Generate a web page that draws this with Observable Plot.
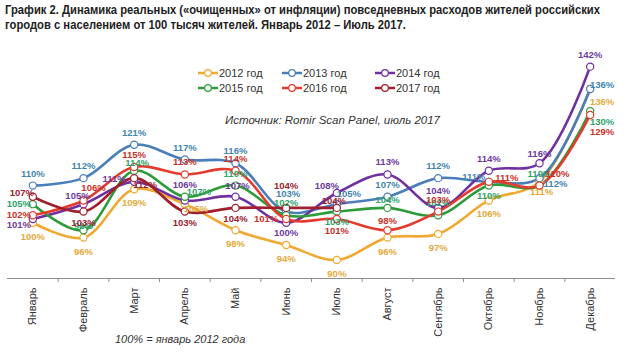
<!DOCTYPE html>
<html><head><meta charset="utf-8">
<script src="https://cdn.jsdelivr.net/npm/d3@7"></script>
<script src="https://cdn.jsdelivr.net/npm/@observablehq/plot@0.6"></script>
<style>
body{margin:0;background:#fff;width:640px;height:360px;position:relative;overflow:hidden;font-family:"Liberation Sans",Arial,sans-serif;color:#333;}
#title{position:absolute;left:5px;top:2px;font-family:"Liberation Sans",Arial,sans-serif;font-weight:bold;font-size:13px;line-height:15px;color:#222;white-space:nowrap;transform-origin:0 0;}
#title span{display:inline-block;}
#chart{position:absolute;left:0;top:36px;}
.leg{position:absolute;font-size:11px;line-height:13px;white-space:nowrap;display:flex;align-items:center;color:#333;}
.leg svg{margin-right:1px;}
#source{position:absolute;left:225px;top:113px;font-style:italic;font-size:11.5px;line-height:14px;color:#333;white-space:nowrap;}
#note{position:absolute;left:115px;top:332px;font-style:italic;font-size:11px;line-height:14px;color:#333;white-space:nowrap;}
</style></head>
<body>
<div id="title"><span id="t1">График 2. Динамика реальных («очищенных» от инфляции) повседневных расходов жителей российских</span><br><span id="t2">городов с населением от 100 тысяч жителей. Январь 2012 – Июль 2017.</span></div>
<div id="chart"></div>
<div id="legend"></div>
<div id="source">Источник: Romir Scan Panel, июль 2017</div>
<div id="note">100% = январь 2012 года</div>
<script>
const months = ["Январь","Февраль","Март","Апрель","Май","Июнь","Июль","Август","Сентябрь","Октябрь","Ноябрь","Декабрь"];
const seriesNames = ["2012 год","2013 год","2014 год","2015 год","2016 год","2017 год"];
const v2012 = [100,96,109,105,98,94,90,96,97,106,111,136];
const v2013 = [110,112,121,117,116,103,105,107,112,111,112,136];
const v2014 = [101,105,111,106,107,100,108,113,104,114,116,142];
const v2015 = [105,98,114,107,110,102,103,104,102,110,110,130];
const v2016 = [102,106,115,113,114,101,101,98,103,111,110,129];
const v2017 = [107,103,112,103,104,104,104];
const seriesValues = [v2012,v2013,v2014,v2015,v2016,v2017];

const lineColors = ["#F0A830","#4A7EBB","#7030A0","#2E9B3A","#E53A2E","#A11F2C"];
const labelColors = ["#E3AA3C","#3F86AE","#6E3A9E","#2FA36B","#C8322A","#9B2230"];

// label placement (style): default [dx,dy] per series and per-month overrides
const labelPlace = [
  {d:[0,14], o:{3:[11,5],10:[2,10],11:[12,13]}},
  {d:[0,-12], o:{5:[2,-18],6:[12,-10],9:[-15,-5],10:[16,6],11:[12,-4]}},
  {d:[0,-12], o:{0:[-14,6],1:[-6,-8],2:[-20,-3],3:[0,-15],4:[2,-11],5:[0,10],6:[-10,-7],8:[0,-17],10:[0,-9]}},
  {d:[0,-12], o:{0:[-14,0],1:[0,-4],2:[3,-8],3:[14,-5],6:[0,10],7:[0,-8],9:[0,10],11:[12,11]}},
  {d:[0,-12], o:{0:[-14,0],1:[10,-12],5:[-20,0],6:[0,12],7:[0,-9],9:[18,-4],10:[18,-12],11:[12,17]}},
  {d:[0,11], o:{0:[-11,-4],2:[11,7],5:[0,-22],6:[-3,-7]}}
];

const data = [];
seriesValues.forEach((vals, s) => vals.forEach((v, i) => data.push({series: seriesNames[s], s, m: i, month: months[i], value: v})));

const textMarks = [];
seriesNames.forEach((name, s) => {
  const groups = new Map();
  data.filter(d => d.s === s).forEach(d => {
    const off = labelPlace[s].o[d.m] || labelPlace[s].d;
    const key = off.join(",");
    if (!groups.has(key)) groups.set(key, {off, rows: []});
    groups.get(key).rows.push(d);
  });
  for (const {off, rows} of groups.values()) {
    textMarks.push(Plot.text(rows, {x: "m", y: "value", text: d => d.value + "%", fill: labelColors[s],
      dx: off[0], dy: off[1], fontSize: 9.5, fontWeight: "bold", fontFamily: "Liberation Sans, Arial, sans-serif"}));
  }
});

const chart = Plot.plot({
  width: 640, height: 324,
  marginLeft: 7, marginRight: 25, marginTop: 19, marginBottom: 82,
  style: {background: "transparent", fontFamily: "Liberation Sans, Arial, sans-serif"},
  x: {type: "linear", domain: [-0.5, 11.5], axis: null, label: null},
  y: {domain: [85, 145], axis: null, label: null},
  color: {domain: seriesNames, range: lineColors},
  marks: [
    Plot.ruleY([85], {stroke: "#8c8c8c", strokeWidth: 1.2}),
    Plot.axisX(d3.range(11).map(i => i + 0.5), {anchor: "bottom", tickSize: 4, fill: "none", label: null, stroke: "#8c8c8c"}),
    Plot.axisX(d3.range(12), {anchor: "bottom", tickSize: 0, tickPadding: 9, tickRotate: -90, label: null, tickFormat: i => months[i], fontSize: 11, fill: "#333"}),
    Plot.line(data, {x: "m", y: "value", z: "series", stroke: "series", strokeWidth: 2.6, curve: "catmull-rom"}),
    Plot.dot(data, {x: "m", y: "value", r: 3.6, fill: "white", stroke: "series", strokeWidth: 1.2}),
    ...textMarks
  ]
});
document.getElementById("chart").appendChild(chart);

// fit title width like the condensed original
const t1 = document.getElementById("t1");
const w1 = t1.getBoundingClientRect().width;
document.getElementById("title").style.transform = `scaleX(${595 / w1})`;

// legend
const legPos = [[198,73],[282,73],[375,73],[198,88],[282,88],[375,88]];
const legend = document.getElementById("legend");
seriesNames.forEach((name, s) => {
  const div = document.createElement("div");
  div.className = "leg";
  div.style.left = legPos[s][0] + "px";
  div.style.top = (legPos[s][1] - 7) + "px";
  div.innerHTML = `<svg width="20" height="14"><line x1="0" x2="20" y1="7" y2="7" stroke="${lineColors[s]}" stroke-width="2.5"/><circle cx="10" cy="7" r="3.3" fill="white" stroke="${lineColors[s]}" stroke-width="1.2"/></svg><span>${name}</span>`;
  legend.appendChild(div);
});
</script>
</body></html>
